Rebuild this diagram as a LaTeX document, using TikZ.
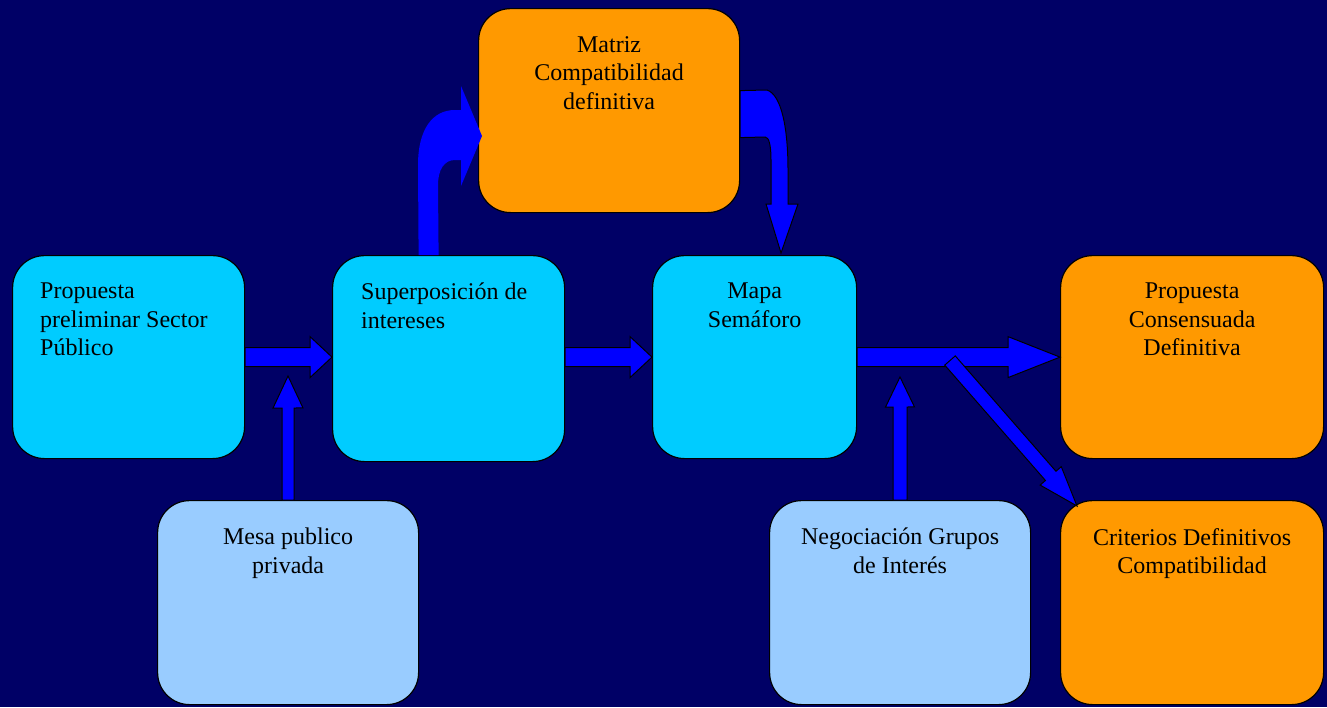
\documentclass[tikz,border=0pt]{standalone}
\usepackage{fontspec}
\setmainfont{Liberation Serif}
\usetikzlibrary{calc,positioning}

\definecolor{navybg}{HTML}{000066}
\definecolor{skycyan}{HTML}{00CCFF}
\definecolor{paleblue}{HTML}{99CCFF}
\definecolor{amber}{HTML}{FF9900}
\definecolor{arrowblue}{HTML}{0000FF}

% straight block arrow: start, tip, shaft half width, head half width, head length
\newcommand{\blockarrow}[5]{%
  \coordinate (ba-s) at (#1);
  \coordinate (ba-t) at (#2);
  \coordinate (ba-b) at ($(ba-t)!#5!(ba-s)$);
  \draw[arrowshape] ($(ba-s)!#3!90:(ba-t)$) -- ($(ba-b)!#3!-90:(ba-s)$)
    -- ($(ba-b)!#4!-90:(ba-s)$) -- (ba-t) -- ($(ba-b)!#4!90:(ba-s)$)
    -- ($(ba-b)!#3!90:(ba-s)$) -- ($(ba-s)!#3!-90:(ba-t)$) -- cycle;
}

\begin{document}
\begin{tikzpicture}[x=1pt, y=-1pt,
  box/.style={draw=black, line width=1.2pt, rounded corners=32pt, anchor=north west, inner sep=0pt},
  boxtext/.style={font=\fontsize{24}{28.5}\selectfont, inner sep=0pt, execute at begin node=\strut},
  arrowshape/.style={fill=arrowblue, draw=black, line width=1pt}]

		% background %
		\fill[navybg] (0,0) rectangle (1327,707);
		\useasboundingbox (0,0) rectangle (1327,707);

		% middle row %
		\node[box, fill=skycyan, minimum width=232pt, minimum height=203pt] (prop) at (12,255) {};
		\node[box, fill=skycyan, minimum width=232pt, minimum height=206pt] (sup) at (332,255) {};
		\node[box, fill=skycyan, minimum width=204pt, minimum height=203pt] (mapa) at (652,255) {};
		\node[box, fill=amber, minimum width=263pt, minimum height=203pt] (cons) at (1060,255) {};

		% top box %
		\node[box, fill=amber, minimum width=261pt, minimum height=204pt] (mat) at (478,8) {};

		% bottom row %
		\node[box, fill=paleblue, minimum width=261pt, minimum height=204pt] (mesa) at (157,500) {};
		\node[box, fill=paleblue, minimum width=261pt, minimum height=204pt] (neg) at (769,500) {};
		\node[box, fill=amber, minimum width=263pt, minimum height=204pt] (crit) at (1060,500) {};

		% texts %
		\node[boxtext, align=left, below right=28pt and 28pt of prop.north west] (prop-txt) {Propuesta\\preliminar Sector\\Público};
		\node[boxtext, align=left, below right=28pt and 29pt of sup.north west] (sup-txt) {Superposición de\\intereses};
		\node[boxtext, align=center, below=28pt of mapa.north] (mapa-txt) {Mapa\\Semáforo};
		\node[boxtext, align=center, below=28pt of cons.north] (cons-txt) {Propuesta\\Consensuada\\Definitiva};
		\node[boxtext, align=center, below=28pt of mat.north] (mat-txt) {Matriz\\Compatibilidad\\definitiva};
		\node[boxtext, align=center, below=28pt of mesa.north] (mesa-txt) {Mesa publico\\privada};
		\node[boxtext, align=center, below=28pt of neg.north] (neg-txt) {Negociación Grupos\\de Interés};
		\node[boxtext, align=center, below=28pt of crit.north] (crit-txt) {Criterios Definitivos\\Compatibilidad};

		% free ends %
		\coordinate (mesa-tip) at (288,376);
		\coordinate (neg-tip) at (900,377);
		\coordinate (split) at (950,360.5);
		\coordinate (crit-tip) at (1077,506);

		% straight arrows %
		\blockarrow{prop.east}{prop.east -| sup.west}{9.5pt}{20.5pt}{22pt}
		\blockarrow{sup.east |- mapa.west}{mapa.west}{9.5pt}{20.5pt}{22pt}
		\blockarrow{mesa.north}{mesa-tip}{6pt}{15pt}{32pt}
		\blockarrow{neg.north}{neg-tip}{7pt}{14.5pt}{30pt}
		\blockarrow{mapa.east}{cons.west}{9.5pt}{20.5pt}{52pt}
		\blockarrow{split}{crit-tip}{7pt}{14pt}{40pt}

		% curved arrow up %
		\fill[arrowblue] ([xshift=-30pt]sup.north) -- (418,165) .. controls (418,130) and (432,110) .. (455,110)
			-- (461,110) -- (461,86) -- (482,136) -- (461,186) -- (461,160) -- (455,160)
			.. controls (444,160) and (438,170) .. (438,185) -- ([xshift=-10pt]sup.north) -- cycle;

		% curved arrow down %
		\draw[arrowshape] ([yshift=20pt]mat.east) -- (767,90) .. controls (782,95) and (788,130) .. (788,170)
			-- (788,204) -- (798,204) -- (781,253) -- (766,204) -- (771,204) -- (771,160)
			.. controls (771,145) and (769,137) .. (765,137) -- ([yshift=-27pt]mat.east) -- cycle;

	\end{tikzpicture}
\end{document}
